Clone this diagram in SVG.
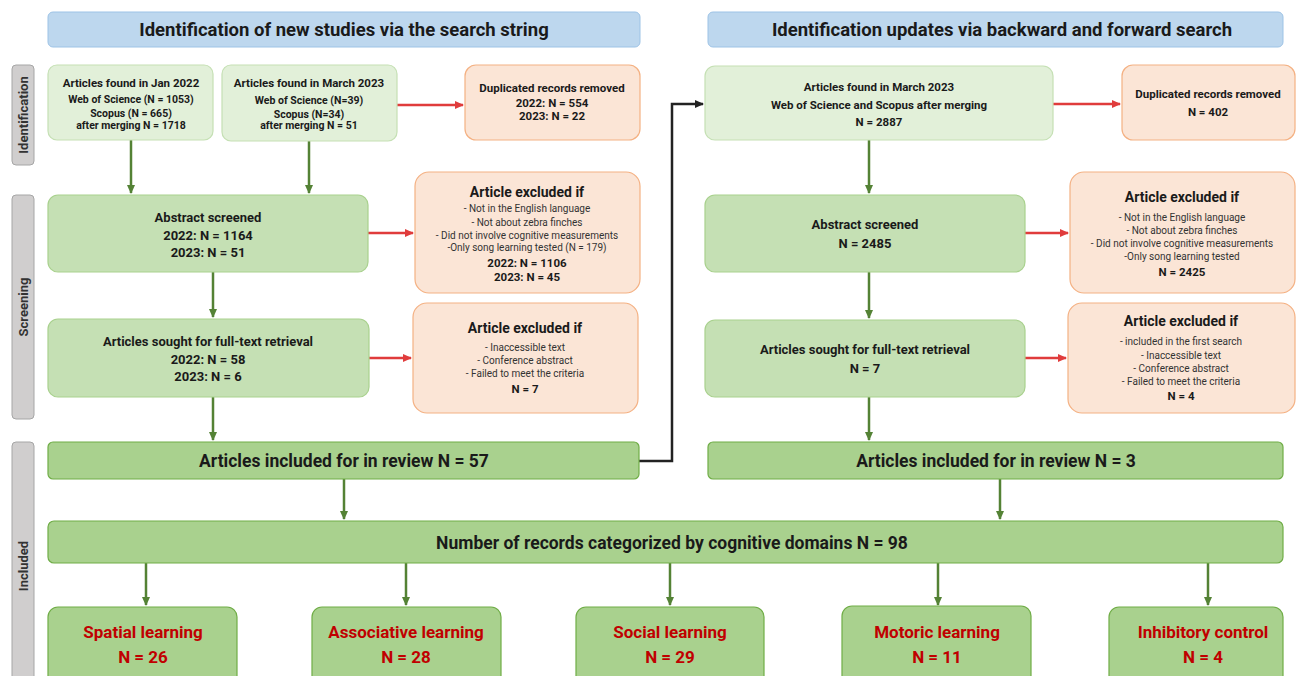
<svg xmlns="http://www.w3.org/2000/svg" width="1299" height="676" viewBox="0 0 1299 676">
<defs>
<style>
text{font-family:Roboto,"Liberation Sans",sans-serif;fill:#1a1a1a;text-anchor:middle;dominant-baseline:central}
.hdr{fill:#bdd7ee;stroke:#9dc3e6;stroke-width:1}
.hdrt{font-size:18.5px;font-weight:bold}
.side{fill:#d0cece;stroke:#a6a6a6;stroke-width:1}
.sidet{font-size:13px;font-weight:bold;fill:#333}
.idb{fill:#e2f0d9;stroke:#c5e0b4;stroke-width:1.2}
.scr{fill:#c5e0b4;stroke:#a9d18e;stroke-width:1.2}
.exc{fill:#fbe5d6;stroke:#f4b183;stroke-width:1.2}
.inc{fill:#a9d18e;stroke:#70ad47;stroke-width:1.2}
.t11b{font-size:11.5px;font-weight:bold}
.t10b{font-size:10.5px;font-weight:bold}
.t12b{font-size:13px;font-weight:bold}
.t13b{font-size:14px;font-weight:bold}
.t10{font-size:10px;fill:#333}
.big{font-size:17.5px;font-weight:bold}
.red{font-size:17px;font-weight:bold;fill:#c00000}
.ga{stroke:#548235;stroke-width:2.5;fill:none}
.ra{stroke:#e03c3c;stroke-width:2.5;fill:none}
.ka{stroke:#222;stroke-width:2.5;fill:none}
</style>
<marker id="mg" markerWidth="10" markerHeight="10" refX="8" refY="5" orient="auto" markerUnits="userSpaceOnUse"><path d="M0,1 L9,5 L0,9 z" fill="#548235"/></marker>
<marker id="mr" markerWidth="10" markerHeight="10" refX="8" refY="5" orient="auto" markerUnits="userSpaceOnUse"><path d="M0,1 L9,5 L0,9 z" fill="#e03c3c"/></marker>
<marker id="mk" markerWidth="10" markerHeight="10" refX="8" refY="5" orient="auto" markerUnits="userSpaceOnUse"><path d="M0,1 L9,5 L0,9 z" fill="#222"/></marker>
</defs>
<rect width="1299" height="676" fill="#ffffff"/>

<g id="header-left"><rect class="hdr" x="48" y="12" width="592" height="35" rx="5"/><text class="hdrt" x="344" y="30">Identification of new studies via the search string</text></g>
<g id="header-right"><rect class="hdr" x="708" y="12" width="575" height="35" rx="5"/><text class="hdrt" x="1002" y="30">Identification updates via backward and forward search</text></g>

<g id="side-identification"><rect class="side" x="12" y="65" width="22" height="100" rx="4"/><text class="sidet" transform="translate(23,115) rotate(-90)">Identification</text></g>
<g id="side-screening"><rect class="side" x="12" y="195" width="22" height="224" rx="4"/><text class="sidet" transform="translate(23,307) rotate(-90)">Screening</text></g>
<g id="side-included"><rect class="side" x="12" y="442" width="22" height="250" rx="4"/><text class="sidet" transform="translate(23,566) rotate(-90)">Included</text></g>

<g id="connectors">
<path class="ga" d="M131,140 V193" marker-end="url(#mg)"/>
<path class="ga" d="M309,141 V193" marker-end="url(#mg)"/>
<path class="ra" d="M397,105 H463" marker-end="url(#mr)"/>
<path class="ga" d="M213,272 V317" marker-end="url(#mg)"/>
<path class="ra" d="M368,233 H413" marker-end="url(#mr)"/>
<path class="ga" d="M213,397 V440" marker-end="url(#mg)"/>
<path class="ra" d="M369,358 H411" marker-end="url(#mr)"/>
<path class="ka" d="M639,461 H672 V104 H703" marker-end="url(#mk)"/>
<path class="ra" d="M1053,104 H1120" marker-end="url(#mr)"/>
<path class="ga" d="M869,140 V193" marker-end="url(#mg)"/>
<path class="ra" d="M1025,233 H1068" marker-end="url(#mr)"/>
<path class="ga" d="M869,272 V318" marker-end="url(#mg)"/>
<path class="ra" d="M1025,358 H1066" marker-end="url(#mr)"/>
<path class="ga" d="M869,397 V440" marker-end="url(#mg)"/>
<path class="ga" d="M344,479 V519" marker-end="url(#mg)"/>
<path class="ga" d="M1000,479 V519" marker-end="url(#mg)"/>
<path class="ga" d="M146,563 V605" marker-end="url(#mg)"/>
<path class="ga" d="M406,563 V605" marker-end="url(#mg)"/>
<path class="ga" d="M670,563 V605" marker-end="url(#mg)"/>
<path class="ga" d="M938,563 V605" marker-end="url(#mg)"/>
<path class="ga" d="M1208,563 V605" marker-end="url(#mg)"/>
</g>

<g id="found-jan-2022"><rect class="idb" x="48" y="65" width="165" height="75" rx="9"/>
<text class="t11b" x="131" y="83">Articles found in Jan 2022</text>
<text class="t10b" x="131" y="99">Web of Science (N = 1053)</text>
<text class="t10b" x="131" y="113">Scopus (N = 665)</text>
<text class="t10b" x="131" y="125">after merging N = 1718</text></g>

<g id="found-mar-2023"><rect class="idb" x="222" y="65" width="175" height="76" rx="9"/>
<text class="t11b" x="309" y="83">Articles found in March 2023</text>
<text class="t10b" x="309" y="100">Web of Science (N=39)</text>
<text class="t10b" x="309" y="114">Scopus (N=34)</text>
<text class="t10b" x="309" y="125">after merging N = 51</text></g>

<g id="dup-left"><rect class="exc" x="465" y="65" width="175" height="75" rx="11"/>
<text class="t11b" x="552" y="88">Duplicated records removed</text>
<text class="t11b" x="552" y="103">2022: N = 554</text>
<text class="t11b" x="552" y="116">2023: N = 22</text></g>

<g id="abstract-left"><rect class="scr" x="48" y="195" width="320" height="77" rx="10"/>
<text class="t12b" x="208" y="217">Abstract screened</text>
<text class="t12b" x="208" y="235">2022: N = 1164</text>
<text class="t12b" x="208" y="252">2023: N = 51</text></g>

<g id="excl-abstract-left"><rect class="exc" x="415" y="172" width="225" height="121" rx="14"/>
<text class="t13b" x="527" y="192">Article excluded if</text>
<text class="t10" x="527" y="208">- Not in the English language</text>
<text class="t10" x="527" y="222">- Not about zebra finches</text>
<text class="t10" x="527" y="235">- Did not involve cognitive measurements</text>
<text class="t10" x="527" y="247">-Only song learning tested (N = 179)</text>
<text class="t11b" x="527" y="263">2022: N = 1106</text>
<text class="t11b" x="527" y="277">2023: N = 45</text></g>

<g id="sought-left"><rect class="scr" x="48" y="319" width="321" height="78" rx="10"/>
<text class="t12b" x="208" y="341">Articles sought for full-text retrieval</text>
<text class="t12b" x="208" y="359">2022: N = 58</text>
<text class="t12b" x="208" y="376">2023: N = 6</text></g>

<g id="excl-sought-left"><rect class="exc" x="413" y="303" width="225" height="110" rx="14"/>
<text class="t13b" x="525" y="328">Article excluded if</text>
<text class="t10" x="525" y="347">- Inaccessible text</text>
<text class="t10" x="525" y="360">- Conference abstract</text>
<text class="t10" x="525" y="373">- Failed to meet the criteria</text>
<text class="t11b" x="525" y="389">N = 7</text></g>

<g id="included-left"><rect class="inc" x="48" y="442" width="591" height="37" rx="5"/>
<text class="big" x="344" y="461">Articles included for in review N = 57</text></g>

<g id="found-mar-2023-update"><rect class="idb" x="705" y="66" width="348" height="74" rx="10"/>
<text class="t11b" x="879" y="87">Articles found in March 2023</text>
<text class="t11b" x="879" y="105">Web of Science and Scopus after merging</text>
<text class="t11b" x="879" y="122">N = 2887</text></g>

<g id="dup-right"><rect class="exc" x="1122" y="65" width="173" height="75" rx="11"/>
<text class="t11b" x="1208" y="94">Duplicated records removed</text>
<text class="t11b" x="1208" y="112">N = 402</text></g>

<g id="abstract-right"><rect class="scr" x="705" y="195" width="320" height="77" rx="10"/>
<text class="t12b" x="865" y="224">Abstract screened</text>
<text class="t12b" x="865" y="243">N = 2485</text></g>

<g id="excl-abstract-right"><rect class="exc" x="1070" y="172" width="225" height="121" rx="14"/>
<text class="t13b" x="1182" y="197">Article excluded if</text>
<text class="t10" x="1182" y="217">- Not in the English language</text>
<text class="t10" x="1182" y="230">- Not about zebra finches</text>
<text class="t10" x="1182" y="243">- Did not involve cognitive measurements</text>
<text class="t10" x="1182" y="256">-Only song learning tested</text>
<text class="t11b" x="1182" y="272">N = 2425</text></g>

<g id="sought-right"><rect class="scr" x="705" y="320" width="320" height="77" rx="10"/>
<text class="t12b" x="865" y="349">Articles sought for full-text retrieval</text>
<text class="t12b" x="865" y="368">N = 7</text></g>

<g id="excl-sought-right"><rect class="exc" x="1068" y="303" width="227" height="110" rx="14"/>
<text class="t13b" x="1181" y="321">Article excluded if</text>
<text class="t10" x="1181" y="341">- included in the first search</text>
<text class="t10" x="1181" y="355">- Inaccessible text</text>
<text class="t10" x="1181" y="368">- Conference abstract</text>
<text class="t10" x="1181" y="381">- Failed to meet the criteria</text>
<text class="t11b" x="1181" y="396">N = 4</text></g>

<g id="included-right"><rect class="inc" x="708" y="442" width="575" height="37" rx="5"/>
<text class="big" x="996" y="461">Articles included for in review N = 3</text></g>

<g id="records-domains"><rect class="inc" x="48" y="521" width="1235" height="42" rx="6"/>
<text class="big" x="672" y="543">Number of records categorized by cognitive domains N = 98</text></g>

<g id="spatial"><rect class="inc" x="48" y="607" width="189" height="80" rx="10"/>
<text class="red" x="143" y="632">Spatial learning</text><text class="red" x="143" y="657">N = 26</text></g>
<g id="associative"><rect class="inc" x="312" y="607" width="189" height="80" rx="10"/>
<text class="red" x="406" y="632">Associative learning</text><text class="red" x="406" y="657">N = 28</text></g>
<g id="social"><rect class="inc" x="576" y="607" width="188" height="80" rx="10"/>
<text class="red" x="670" y="632">Social learning</text><text class="red" x="670" y="657">N = 29</text></g>
<g id="motoric"><rect class="inc" x="842" y="606" width="189" height="81" rx="10"/>
<text class="red" x="937" y="632">Motoric learning</text><text class="red" x="937" y="657">N = 11</text></g>
<g id="inhibitory"><rect class="inc" x="1109" y="607" width="174" height="80" rx="10"/>
<text class="red" x="1203" y="632">Inhibitory control</text><text class="red" x="1203" y="657">N = 4</text></g>
</svg>
